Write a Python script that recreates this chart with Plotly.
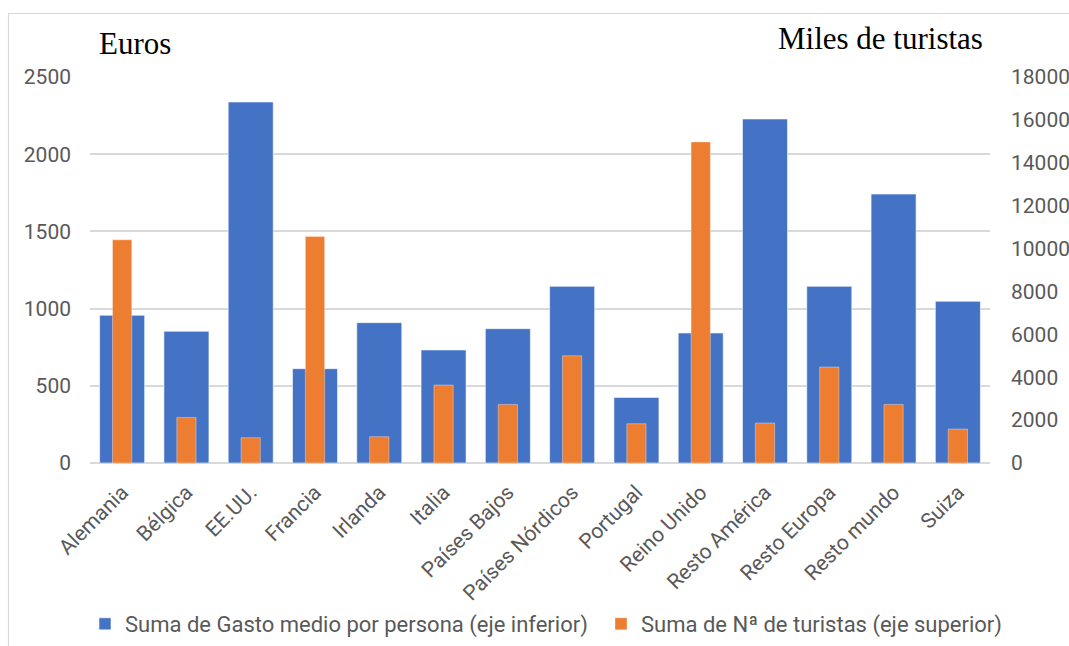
import plotly.graph_objects as go

categorias = ["Alemania", "Bélgica", "EE.UU.", "Francia", "Irlanda", "Italia",
              "Países Bajos", "Países Nórdicos", "Portugal", "Reino Unido",
              "Resto América", "Resto Europa", "Resto mundo", "Suiza"]
gasto_medio = [957, 853, 2338, 611, 909, 732, 870, 1144, 425, 842, 2228, 1144, 1742, 1047]
turistas_miles = [10406, 2125, 1179, 10560, 1226, 3635, 2731, 5000, 1831, 14973, 1864, 4474, 2731, 1584]

left_ticks = [0, 500, 1000, 1500, 2000, 2500]
right_ticks = [0, 2000, 4000, 6000, 8000, 10000, 12000, 14000, 16000, 18000]
right_labels = [str(v) for v in right_ticks]

W, H = 1069, 646
L, R, T, B = 90, 79, 77, 183
pw, ph = W - L - R, H - T - B

def px(x):
    return (x - L) / pw

def py(y):
    return (H - B - y) / ph

tick_font = dict(family="Roboto", size=21, color="#595959")
legend_font = dict(family="Roboto", size=22, color="#595959")

fig = go.Figure()
fig.add_trace(go.Bar(
    x=categorias, y=gasto_medio, width=0.7,
    name="Suma de Gasto medio por persona (eje inferior)",
    marker=dict(color="#4472C4", line=dict(color="rgba(255,255,255,0.55)", width=1)),
    yaxis="y", legend="legend"))
fig.add_trace(go.Bar(
    x=categorias, y=turistas_miles, width=0.3,
    name="Suma de Nª de turistas (eje superior)",
    marker=dict(color="#ED7D31", line=dict(color="rgba(255,255,255,0.35)", width=1)),
    yaxis="y2", legend="legend2"))

legend_common = dict(orientation="h", yanchor="middle", y=py(624), xanchor="left",
                     font=legend_font, itemclick=False, bgcolor="rgba(0,0,0,0)",
                     borderwidth=0)

fig.update_layout(
    width=W, height=H,
    margin=dict(l=L, r=R, t=T, b=B, pad=0, autoexpand=False),
    paper_bgcolor="white", plot_bgcolor="white",
    barmode="overlay",
    font=tick_font,
    showlegend=True,
    legend=dict(x=px(85), **legend_common),
    legend2=dict(x=px(601), **legend_common),
    xaxis=dict(tickangle=-45, tickfont=tick_font, showgrid=False, showline=False,
               ticks="", zeroline=False, ticklabelstandoff=12, automargin=False),
    yaxis=dict(range=[0, 2500], tickvals=left_ticks, tickfont=tick_font,
               showgrid=True, gridcolor="#d9d9d9", gridwidth=1.5,
               zeroline=True, zerolinecolor="#d9d9d9", zerolinewidth=1.5,
               showline=False, ticks="", ticklabelstandoff=18, automargin=False),
    yaxis2=dict(range=[0, 18000], tickvals=right_ticks, ticktext=right_labels,
                tickfont=tick_font,
                overlaying="y", side="right", showgrid=False, zeroline=False,
                showline=False, ticks="", ticklabelstandoff=20, automargin=False),
    shapes=[dict(type="rect", xref="paper", yref="paper",
                 x0=px(8.5), x1=px(1090), y0=py(13.5), y1=py(680),
                 line=dict(color="#d9d9d9", width=1.2), fillcolor="rgba(0,0,0,0)",
                 layer="below")],
    annotations=[
        dict(text="Euros", xref="paper", yref="paper", x=px(97), y=py(63),
             xanchor="left", yanchor="bottom", showarrow=False,
             font=dict(family="Liberation Serif", size=31, color="black")),
        dict(text="Miles de turistas", xref="paper", yref="paper", x=px(985), y=py(58),
             xanchor="right", yanchor="bottom", showarrow=False,
             font=dict(family="Liberation Serif", size=31, color="black")),
    ],
)

fig.write_html("out.html", config={"displayModeBar": False},
               post_script="document.body.style.margin='0px';document.body.style.overflow='hidden';")
